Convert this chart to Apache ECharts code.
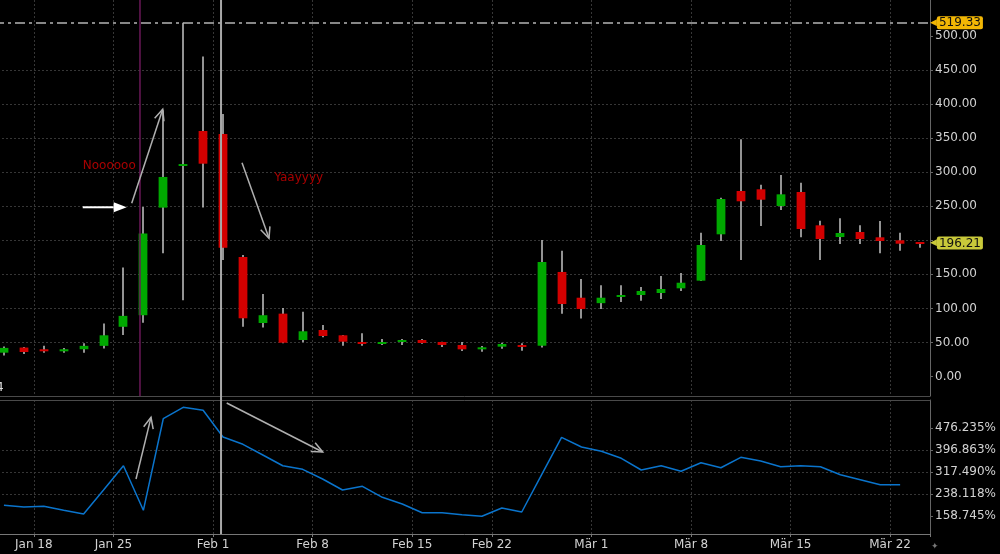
<!DOCTYPE html>
<html><head><meta charset="utf-8">
<script src="https://cdn.jsdelivr.net/npm/echarts@6/dist/echarts.min.js"></script>
<style>html,body{margin:0;padding:0;background:#000;}#c{width:1000px;height:554px;}</style>
</head><body><div id="c"></div>
<script>
// ---- data ----
const dates = ['2021-01-14','2021-01-15','2021-01-19','2021-01-20','2021-01-21','2021-01-22',
'2021-01-25','2021-01-26','2021-01-27','2021-01-28','2021-01-29',
'2021-02-01','2021-02-02','2021-02-03','2021-02-04','2021-02-05',
'2021-02-08','2021-02-09','2021-02-10','2021-02-11','2021-02-12',
'2021-02-16','2021-02-17','2021-02-18','2021-02-19',
'2021-02-22','2021-02-23','2021-02-24','2021-02-25','2021-02-26',
'2021-03-01','2021-03-02','2021-03-03','2021-03-04','2021-03-05',
'2021-03-08','2021-03-09','2021-03-10','2021-03-11','2021-03-12',
'2021-03-15','2021-03-16','2021-03-17','2021-03-18','2021-03-19',
'2021-03-22','2021-03-23'];
const open  = [35,42.5,40,37,40,45,73,90,248,309.5,360.5,356,175.5,78.6,92.3,53.6,68.3,60.5,50.7,48.2,50.7,53.6,50.7,46.3,39.9,43.8,46.3,45.2,153.5,115.7,107.7,117,119.7,122.6,129.5,140.7,208.8,272.4,274.9,250.4,270.9,222,204.8,212.2,204.4,200,197.5];
const high  = [44,43.5,45,42,49,78,160,249,391,519.33,470,385.5,178.5,121,100.6,95.2,75.6,61,63.4,55.1,55.1,55.1,51,50.7,44.8,49.6,48.7,200.4,184.7,143.2,134,134,131.4,147.6,152,211.2,262.6,348.3,281.6,295.9,284.6,228.8,232.3,222,228.3,211.2,197.5];
const low   = [31,33,35,35,35,41,61,79,181,112,248,171,73,72,48.7,50.2,57.5,45.2,45.2,46.3,46.3,48,43.3,37.4,36.4,40.8,37.9,42.6,92.2,85,99.3,109.5,111.3,113.8,125.6,140.2,199,171.1,221,244.5,204.4,171.1,194.6,194.6,180.9,184.7,189.1];
const close = [42,36,37,40,45,60.5,89,210,293,312,312.5,189,85.5,90,49.6,66.4,59.5,51.1,48.2,50.7,53.6,49.2,46.3,39.9,42.9,47.7,43.8,168.1,106.5,99.1,115.7,119.7,125.6,128.5,137.7,193.1,260.6,257.3,259.6,267.5,216.6,201.9,210.7,201.9,199,195,196.21];
const volPct = [198.3,192.2,194.7,180.7,167,253.3,340.6,180.3,509.6,550.6,539.8,443.8,417.6,379.1,340.6,327.7,292.8,253.3,266.6,227,203,171.7,171.7,164.5,158.7,188.6,174.2,308.3,442.7,407.9,392.4,367.2,325.2,340.6,320.5,351.4,333.4,370.8,357.5,337,340.6,337,308.3,290.3,272.3,272.3,null];
const priceTicks = [0,50,100,150,200,250,300,350,400,450,500];
const pctTicks = [158.745,238.118,317.490,396.863,476.235];
const monthNames = ['Jan','Feb','Mär','Apr','Mai','Jun','Jul','Aug','Sep','Okt','Nov','Dez'];
const noteUp = 'Noooooo';
const noteDown = 'Yaayyyy';

// ---- helpers ----
function monday(d){ const t=new Date(d+'T00:00:00Z'); const dd=(t.getUTCDay()+6)%7; return new Date(t.getTime()-dd*86400000); }
const weekKey = dates.map(d=>monday(d).toISOString().slice(0,10));
const weekStart = dates.map((d,i)=> i>0 && weekKey[i]!==weekKey[i-1]);
function weekLabel(i){ const m=monday(dates[i]); return monthNames[m.getUTCMonth()]+' '+m.getUTCDate(); }
const isWS = (i)=>!!weekStart[i];

const FONT='DejaVu Sans';
const GRID='#363636';
const AXIS='#666';
const LBL='#d2d2d2';
const GREEN='#00a800', RED='#d20000';
const maxHigh = Math.max(...high);
const lastClose = close[close.length-1];
const priceLabels = priceTicks.filter(v=>Math.abs(v-lastClose)>10 && Math.abs(v-maxHigh)>10);
const P_MIN=-28.63, P_MAX=552.86, V_MIN=95.1, V_MAX=576.9;

const chart = echarts.init(document.getElementById('c'));
function renderCandle(params, api){
  const i=api.value(0), o=api.value(1), c=api.value(2), l=api.value(3), h=api.value(4);
  const pO=api.coord([i,o]), pC=api.coord([i,c]), pL=api.coord([i,l]), pH=api.coord([i,h]);
  const bw=api.size([1,0])[0]*0.44;
  const x=Math.round(pO[0]);
  const top=Math.min(pO[1],pC[1]);
  const hh=Math.max(Math.abs(pO[1]-pC[1]),2);
  return {type:'group',children:[
    {type:'line',shape:{x1:x,y1:pH[1],x2:x,y2:pL[1]},style:{stroke:'#c4c4c4',lineWidth:1.5}},
    {type:'rect',shape:{x:x-bw/2,y:top,width:bw,height:hh},style:{fill:c>=o?GREEN:RED}}
  ]};
}
const candleData = dates.map((d,i)=>[i,open[i],close[i],low[i],high[i]]);
function tag(val,bg){
  return {yAxis:val, label:{show:true,position:'end',distance:0,
    formatter:'{p|◀}{b|'+val.toFixed(2)+'}',
    rich:{p:{color:bg,fontSize:9,fontFamily:FONT},b:{backgroundColor:bg,color:'#111',fontSize:12,fontFamily:FONT,padding:[1,2,0,2],borderRadius:2}}}};
}
const option={
  backgroundColor:'#000',
  animation:false,
  textStyle:{fontFamily:FONT},
  grid:[{left:-6,width:936,top:0,height:396,outerBoundsMode:'none',containLabel:false},
        {left:-6,width:936,top:400,height:134,outerBoundsMode:'none',containLabel:false}],
  xAxis:[
    {type:'category',gridIndex:0,data:dates,boundaryGap:true,
     axisLine:{show:true,onZero:false,lineStyle:{color:'#4a4a4a'}},axisTick:{show:false},axisLabel:{show:false},
     splitLine:{show:true,interval:isWS,lineStyle:{color:GRID,type:[2,2]}}},
    {type:'category',gridIndex:1,data:dates,boundaryGap:true,
     axisLine:{show:true,onZero:false,lineStyle:{color:'#777'}},
     axisTick:{show:true,interval:isWS,length:3,lineStyle:{color:'#777'}},
     axisLabel:{show:true,interval:isWS,formatter:(v,i)=>weekLabel(i),color:LBL,fontSize:12,fontFamily:FONT,margin:5,padding:[0,20,0,0]},
     splitLine:{show:true,interval:isWS,lineStyle:{color:GRID,type:[2,2]}}},
    {type:'category',gridIndex:1,data:dates,position:'top',boundaryGap:true,
     axisLine:{show:true,onZero:false,lineStyle:{color:'#4a4a4a'}},axisTick:{show:false},axisLabel:{show:false},splitLine:{show:false}}
  ],
  yAxis:[
    {type:'value',gridIndex:0,position:'right',min:P_MIN,max:P_MAX,
     axisLine:{show:true,onZero:false,lineStyle:{color:AXIS}},
     axisTick:{show:true,length:3,customValues:priceTicks,lineStyle:{color:AXIS}},
     axisLabel:{customValues:priceLabels,formatter:v=>v.toFixed(2),color:LBL,fontSize:12,fontFamily:FONT,margin:5},
     splitLine:{show:true,showMinLine:false,showMaxLine:false,lineStyle:{color:GRID,type:[2,2]}}},
    {type:'value',gridIndex:1,position:'right',min:V_MIN,max:V_MAX,
     axisLine:{show:true,onZero:false,lineStyle:{color:AXIS}},
     axisTick:{show:true,length:3,customValues:pctTicks,lineStyle:{color:AXIS}},
     axisLabel:{customValues:pctTicks,formatter:v=>v.toFixed(3)+'%',color:LBL,fontSize:12,fontFamily:FONT,margin:5},
     splitLine:{show:true,showMinLine:false,showMaxLine:false,lineStyle:{color:GRID,type:[2,2]}}}
  ],
  series:[
    {type:'custom',xAxisIndex:0,yAxisIndex:0,data:candleData,renderItem:renderCandle,
     encode:{x:0,y:[1,2,3,4]},z:3,
     markLine:{silent:true,symbol:['none','none'],animation:false,
       data:[
         Object.assign(tag(maxHigh,'#f2b705'),{lineStyle:{color:'#b4b4b4',width:1.5,type:[10,4,3,4]}}),
         Object.assign(tag(lastClose,'#c9c93a'),{lineStyle:{color:'rgba(0,0,0,0)',width:0}})
       ]}},
    {type:'line',xAxisIndex:1,yAxisIndex:1,data:volPct,showSymbol:false,symbol:'none',
     lineStyle:{color:'#0a74cc',width:1.5},itemStyle:{color:'#0a74cc'},connectNulls:false,z:3}
  ]
};
chart.setOption(option);

// ---- annotations (anchored in data space) ----
function P(g, idx, val){
  const i0=Math.floor(idx), f=idx-i0;
  const a=chart.convertToPixel({xAxisIndex:g,yAxisIndex:g},[i0,val]);
  const b=chart.convertToPixel({xAxisIndex:g,yAxisIndex:g},[i0+1,val]);
  return [a[0]+(b[0]-a[0])*f, a[1]];
}
const G=[];
function arrow(p1,p2,color,w,filled){
  const dx=p2[0]-p1[0], dy=p2[1]-p1[1], L=Math.hypot(dx,dy), ux=dx/L, uy=dy/L;
  if(filled){
    const hl=13, hw=5;
    const bx=p2[0]-ux*hl, by=p2[1]-uy*hl;
    G.push({type:'line',shape:{x1:p1[0],y1:p1[1],x2:bx,y2:by},style:{stroke:color,lineWidth:w},z:10});
    G.push({type:'polygon',shape:{points:[[p2[0],p2[1]],[bx-uy*hw,by+ux*hw],[bx+uy*hw,by-ux*hw]]},style:{fill:color},z:10});
  } else {
    const hl=12, ang=0.42;
    const c=Math.cos(ang), s=Math.sin(ang);
    const l1=[p2[0]-hl*(ux*c-uy*s), p2[1]-hl*(uy*c+ux*s)];
    const l2=[p2[0]-hl*(ux*c+uy*s), p2[1]-hl*(uy*c-ux*s)];
    G.push({type:'line',shape:{x1:p1[0],y1:p1[1],x2:p2[0],y2:p2[1]},style:{stroke:color,lineWidth:w},z:10});
    G.push({type:'polyline',shape:{points:[l1,[p2[0],p2[1]],l2]},style:{stroke:color,lineWidth:w,fill:null},z:10});
  }
}
function vline(g1,g2,idx,color,w){
  const a=P(g1,idx,g1===0?P_MAX:V_MAX), b=P(g2,idx,g2===0?P_MIN:V_MIN);
  G.push({type:'line',shape:{x1:a[0],y1:a[1],x2:b[0],y2:b[1]},style:{stroke:color,lineWidth:w},z:9});
}
vline(0,0,6.83,'#6a1858',1.5);
vline(0,1,10.9,'#a8a8a8',2);
arrow(P(0,3.955,248.5),P(0,6.164,248.5),'#ffffff',2,true);
arrow(P(0,6.415,254.3),P(0,7.972,392.4),'#b0b0b0',1.5,false);
arrow(P(0,11.953,314.0),P(0,13.309,202.9),'#b0b0b0',1.5,false);
arrow(P(1,6.631,292.8),P(1,7.384,514.6),'#b0b0b0',1.5,false);
arrow(P(1,11.185,566.0),P(1,16.005,389.9),'#b0b0b0',1.5,false);
const t1=P(0,3.955,309.1), t2=P(0,13.576,291.0);
G.push({type:'text',x:t1[0],y:t1[1],style:{text:noteUp,fill:'#a80000',font:'12px "DejaVu Sans"',verticalAlign:'middle',align:'left'},z:10});
G.push({type:'text',x:t2[0],y:t2[1],style:{text:noteDown,fill:'#a80000',font:'12px "DejaVu Sans"',verticalAlign:'middle',align:'left'},z:10});
G.push({type:'text',x:-4,y:388,style:{text:'4',fill:'#dddddd',font:'12px "DejaVu Sans"',verticalAlign:'middle'},z:10});
G.push({type:'text',x:931,y:547,style:{text:'✦',fill:'#777',font:'9px "DejaVu Sans"',verticalAlign:'middle'},z:10});
chart.setOption({graphic:G});
</script>
</body></html>
